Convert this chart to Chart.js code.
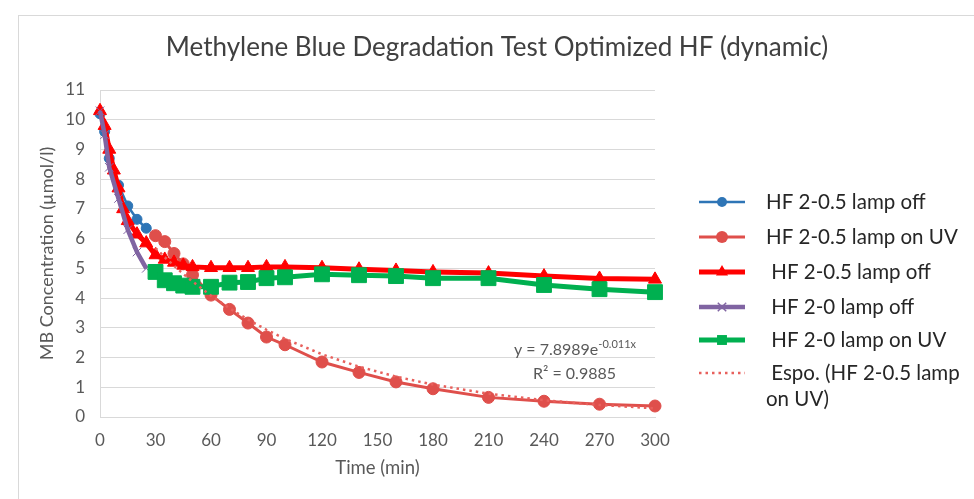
<!DOCTYPE html>
<html lang="en">
<head>
  <meta charset="UTF-8">
  <title>Methylene Blue Degradation Test Optimized HF (dynamic)</title>
  <script src="https://cdn.jsdelivr.net/npm/chart.js"></script>
  <style>
    html, body {
      margin: 0;
      padding: 0;
      background: #fff;
    }
    #chart-box {
      width: 974px;
      height: 499px;
    }
  </style>
</head>
<body>
  <div id="chart-box">
    <canvas id="mbChart" width="974" height="499"></canvas>
  </div>

  <script>
    // measured MB concentration (umol/l) vs time (min)
    const offTime = [0, 2.5, 5, 10, 15, 20, 25];
    const hf05Off = [10.2, 9.6, 8.7, 7.8, 7.1, 6.65, 6.35];

    const uvTime = [30, 35, 40, 45, 50, 60, 70, 80, 90, 100, 120, 140, 160, 180, 210, 240, 270, 300];
    const hf05OnUV = [6.1, 5.9, 5.5, 5.15, 4.78, 4.1, 3.62, 3.16, 2.69, 2.43, 1.85, 1.5, 1.18, 0.95, 0.66, 0.53, 0.43, 0.37];

    const darkTime = [0, 2.5, 5, 7.5, 10, 12.5, 15, 20, 25, 30, 35, 40, 45, 50, 60, 70, 80, 90, 100, 120, 140, 160, 180, 210, 240, 270, 300];
    const hf05OffB = [10.3, 9.8, 9.0, 8.3, 7.7, 7.0, 6.6, 6.15, 5.85, 5.45, 5.3, 5.2, 5.1, 5.05, 5.02, 5.02, 5.02, 5.05, 5.05, 5.02, 4.97, 4.93, 4.88, 4.84, 4.74, 4.66, 4.63];

    const hf0Off = [10.3, 9.5, 8.4, 7.35, 6.3, 5.55, 5.0];
    const hf0OnUV = [4.88, 4.6, 4.5, 4.42, 4.38, 4.38, 4.52, 4.54, 4.67, 4.7, 4.8, 4.77, 4.74, 4.67, 4.67, 4.44, 4.3, 4.2];

    // exponential trend on the UV series: y = a * e^(b x)
    const fitA = 7.8989;
    const fitB = -0.011;
    const fitR2 = 0.9885;

    const xTicks = [0, 30, 60, 90, 120, 150, 180, 210, 240, 270, 300];

    const FONT = 'Lato, "Open Sans", sans-serif';
    const GREY = '#595959';

    function pts(xs, ys) {
      return xs.map((x, i) => ({ x: x, y: ys[i] }));
    }

    const datasets = [
      {
        label: 'HF 2-0.5 lamp off',
        data: pts(offTime, hf05Off),
        borderColor: '#2E75B6', backgroundColor: '#2E75B6',
        borderWidth: 2.5, pointStyle: 'circle', pointRadius: 5, order: 6
      },
      {
        label: 'HF 2-0.5 lamp on UV',
        data: pts(uvTime, hf05OnUV),
        borderColor: '#DF4F4B', backgroundColor: '#DF4F4B',
        borderWidth: 3, pointStyle: 'circle', pointRadius: 6, order: 5
      },
      {
        label: ' HF 2-0.5 lamp off',
        data: pts(darkTime, hf05OffB),
        borderColor: '#FF0000', backgroundColor: '#FF0000',
        borderWidth: 5, pointStyle: 'triangle', pointRadius: 7.5, order: 4
      },
      {
        label: ' HF 2-0 lamp off',
        data: pts(offTime, hf0Off),
        borderColor: '#8064A2', backgroundColor: '#8064A2',
        borderWidth: 4.5, pointStyle: 'crossRot', pointRadius: 6, order: 3
      },
      {
        label: ' HF 2-0 lamp on UV',
        data: pts(darkTime.slice(9), hf0OnUV),
        borderColor: '#00B050', backgroundColor: '#00B050',
        borderWidth: 5, pointStyle: 'rect', pointRadius: 10.5, order: 2
      },
      {
        label: ' Espo. (HF 2-0.5 lamp|on UV)',
        data: uvTime.map(x => ({ x: x, y: fitA * Math.exp(fitB * x) })),
        borderColor: '#E8605C', backgroundColor: '#E8605C',
        borderWidth: 2.5, borderDash: [2.5, 4], pointRadius: 0, order: 1
      }
    ];
    datasets.forEach(d => {
      d.showLine = true;
      d.tension = 0;
      d.clip = false;
      d.pointBorderWidth = 1;
      d.pointHoverRadius = d.pointRadius;
    });

    function marker(ctx, style, x, y, r, color) {
      ctx.save();
      ctx.fillStyle = color;
      ctx.strokeStyle = color;
      ctx.beginPath();
      if (style === 'circle') {
        ctx.arc(x, y, r, 0, Math.PI * 2);
        ctx.fill();
      } else if (style === 'triangle') {
        ctx.moveTo(x, y - r);
        ctx.lineTo(x + r * 0.866, y + r * 0.5);
        ctx.lineTo(x - r * 0.866, y + r * 0.5);
        ctx.closePath();
        ctx.fill();
      } else if (style === 'rect') {
        const s = r * Math.SQRT1_2;
        ctx.fillRect(x - s, y - s, 2 * s, 2 * s);
      } else if (style === 'crossRot') {
        const s = r * 0.7;
        ctx.lineWidth = 1.5;
        ctx.moveTo(x - s, y - s); ctx.lineTo(x + s, y + s);
        ctx.moveTo(x - s, y + s); ctx.lineTo(x + s, y - s);
        ctx.stroke();
      }
      ctx.restore();
    }

    // frame, title, side legend and trend equation
    const decor = {
      id: 'decor',
      beforeDraw(chart) {
        const ctx = chart.ctx;
        ctx.save();
        ctx.fillStyle = '#fff';
        ctx.fillRect(0, 0, chart.width, chart.height);
        ctx.strokeStyle = '#d9d9d9';
        ctx.lineWidth = 1;
        ctx.strokeRect(18.5, 15.5, 980, 500);
        ctx.restore();
      },
      afterDraw(chart) {
        const ctx = chart.ctx;
        ctx.save();

        ctx.fillStyle = '#404040';
        ctx.font = '26px ' + FONT;
        ctx.textAlign = 'center';
        ctx.textBaseline = 'middle';
        ctx.fillText('Methylene Blue Degradation Test Optimized HF (dynamic)', 497, 48);

        const rows = [202, 237, 272, 307, 340, 373];
        ctx.font = '20.5px ' + FONT;
        ctx.textAlign = 'left';
        chart.data.datasets.forEach((d, i) => {
          const y = rows[i];
          ctx.save();
          ctx.strokeStyle = d.borderColor;
          ctx.lineWidth = d.borderWidth;
          ctx.setLineDash(d.borderDash || []);
          ctx.beginPath();
          ctx.moveTo(699, y);
          ctx.lineTo(745, y);
          ctx.stroke();
          ctx.restore();
          if (d.pointRadius) {
            marker(ctx, d.pointStyle, 722, y, Math.min(d.pointRadius, 7), d.borderColor);
          }
          ctx.fillStyle = '#262626';
          d.label.split('|').forEach((line, k) => {
            ctx.fillText(line, 766, y + k * 26);
          });
        });

        const area = chart.chartArea;
        ctx.fillStyle = GREY;
        ctx.font = '16px ' + FONT;
        const base = 'y = ' + fitA.toFixed(4) + 'e';
        const ex = String(fitB) + 'x';
        const bw = ctx.measureText(base).width;
        ctx.font = '11px ' + FONT;
        const ew = ctx.measureText(ex).width;
        const x0 = area.right - 19 - bw - ew;
        ctx.font = '16px ' + FONT;
        ctx.fillText(base, x0, 350);
        ctx.font = '11px ' + FONT;
        ctx.fillText(ex, x0 + bw, 344);
        ctx.font = '16px ' + FONT;
        ctx.fillText('R\u00B2 = ' + fitR2.toFixed(4), 533, 374);
        ctx.restore();
      }
    };

    const ctx = document.getElementById('mbChart').getContext('2d');
    const mbChart = new Chart(ctx, {
      type: 'scatter',
      data: { datasets: datasets },
      options: {
        responsive: false,
        animation: false,
        layout: { padding: { left: 32, right: 319, top: 90, bottom: 16 } },
        plugins: {
          legend: { display: false },
          title: { display: false },
          tooltip: { enabled: false }
        },
        scales: {
          x: {
            type: 'linear',
            min: 0,
            max: 300,
            afterBuildTicks: axis => { axis.ticks = xTicks.map(v => ({ value: v })); },
            afterFit: axis => { axis.height = 66; },
            ticks: { padding: 13, color: GREY, font: { family: FONT, size: 17 } },
            grid: { display: false, drawTicks: false },
            border: { color: '#d9d9d9', width: 1 },
            title: {
              display: true,
              text: 'Time (min)',
              color: GREY,
              font: { family: FONT, size: 18.5 }
            }
          },
          y: {
            min: 0,
            max: 11,
            afterFit: axis => { axis.width = 68; },
            ticks: { stepSize: 1, padding: 15, color: GREY, font: { family: FONT, size: 17 } },
            grid: { color: '#d9d9d9', lineWidth: 1, drawTicks: false },
            border: { color: '#d9d9d9', width: 1 },
            title: {
              display: true,
              text: 'MB Concentration (\u00B5mol/l)',
              color: GREY,
              font: { family: FONT, size: 18 }
            }
          }
        }
      },
      plugins: [decor]
    });
  </script>
</body>
</html>
